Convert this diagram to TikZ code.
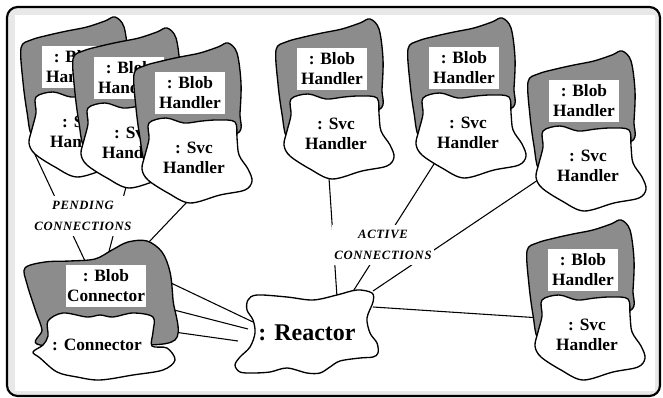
\documentclass[tikz,border=0pt]{standalone}
\usepackage{fontspec}
\setmainfont{Liberation Serif}
\newfontfamily\spacedfont[LetterSpace=5]{Liberation Serif}
\usetikzlibrary{positioning}

\pgfdeclarelayer{back}
\pgfdeclarelayer{wires}
\pgfsetlayers{back,wires,main}

% handler: shaded Blob part with the Svc part in front of it
\newcommand{\blobhandler}[3]{%
  \begin{scope}[shift={(#2,#3)}]
    \filldraw[shaded blob] plot[smooth cycle, tension=0.55] coordinates {
      (-56,-19) (-46,-27) (-28,-32) (-10,-36) (10,-40) (28,-46) (38,-50)
      (47,-40) (51,-10) (50,20) (48,40) (10,46) (-30,64) (-45,68)
      (-50,45) (-54,15)};
    \filldraw[plain blob] plot[smooth cycle, tension=0.55] coordinates {
      (-41,30) (-24,25) (-6,30) (12,28) (28,27) (45,29) (47,45) (49,62)
      (58,76) (62,88) (55,97) (30,102) (0,110) (-22,100) (-42,87)
      (-48,76) (-45,62) (-41,46)};
    \node[namebox] (#1-blob) at (0,0) {: Blob\\Handler};
    \node[svclabel] (#1-svc) at (4,65) {: Svc\\Handler};
    \coordinate (#1-w) at (-46,79);
    \coordinate (#1-sw) at (-30,96);
    \coordinate (#1-s) at (-3,109);
    \coordinate (#1-nw) at (-42,48);
  \end{scope}}

\begin{document}
\begin{tikzpicture}[
    x=0.75pt, y=-0.75pt,
    shaded blob/.style={draw=black, line width=1pt, fill=black!45},
    plain blob/.style={draw=black, line width=1pt, fill=white},
    namebox/.style={
        fill=white,
        inner sep=1pt,
        minimum width=52pt,
        minimum height=31pt,
        align=center,
        font=\bfseries\fontsize{13}{15}\selectfont
    },
    svclabel/.style={inner sep=0pt, align=center, font=\bfseries\fontsize{13}{15}\selectfont},
    wire/.style={draw, line width=0.8pt},
    tag/.style={
        fill=white,
        inner xsep=2pt,
        inner ysep=4pt,
        align=center,
        font=\spacedfont\bfseries\itshape\fontsize{9.5}{16}\selectfont
    }
]
    \useasboundingbox (0,0) rectangle (663,398);

    % --- FRAME ---
    \begin{pgfonlayer}{back}
        \draw[line width=1.6pt, fill=black!9, rounded corners=8pt] (7,7) rectangle (660,396);
        \fill[white] (15,15) rectangle (655,391);
    \end{pgfonlayer}

    % --- PENDING HANDLERS ---
    \blobhandler{pendA}{77}{67}
    \blobhandler{pendB}{129}{78}
    \blobhandler{pendC}{190}{93}

    % --- ACTIVE HANDLERS ---
    \blobhandler{actA}{332}{69}
    \blobhandler{actB}{464}{68}
    \blobhandler{actC}{584}{101}
    \blobhandler{actD}{583}{270}

    % --- CONNECTOR ---
    \filldraw[shaded blob] plot[smooth cycle, tension=0.55] coordinates {
      (25,268) (45,262) (70,261) (95,259) (112,250) (128,242) (147,241)
      (162,252) (170,272) (173,300) (175,340) (120,345) (40,345) (42,330)
      (36,312) (27,284)};
    \filldraw[plain blob] plot[smooth cycle, tension=0.55] coordinates {
      (48,321) (63,313) (87,317) (100,315) (113,317) (133,313) (153,317)
      (153,332) (152,346) (167,348) (175,360) (163,370) (133,375) (100,380)
      (77,377) (57,372) (40,358) (33,352) (43,345) (48,336)};
    \node[namebox] (conn-blob) at (106,286) {: Blob\\Connector};
    \node[svclabel] (conn-main) at (97,345) {: Connector};
    \coordinate (conn-n1) at (85,261);
    \coordinate (conn-n2) at (107,259);
    \coordinate (conn-ne) at (148,243);
    \coordinate (conn-e1) at (171,283);
    \coordinate (conn-e2) at (174,310);
    \coordinate (conn-e3) at (174,332);

    % --- REACTOR ---
    \filldraw[plain blob] plot[smooth cycle, tension=0.55] coordinates {
      (248,300) (257,295) (287,297) (313,300) (337,295) (357,290) (372,293)
      (373,302) (367,318) (370,333) (377,343) (378,353) (373,357) (360,358)
      (340,361) (330,367) (320,373) (307,373) (287,368) (270,372) (253,373)
      (240,372) (235,365) (240,357) (250,347) (255,333) (253,320) (247,310)};
    \node[font=\bfseries\fontsize{18}{20}\selectfont, inner sep=0pt] (reactor) at (307,333) {: Reactor};
    \coordinate (r-w1) at (253,322);
    \coordinate (r-w2) at (248,329);
    \coordinate (r-w3) at (238,341);
    \coordinate (r-n1) at (337,297);
    \coordinate (r-n2) at (352,293);
    \coordinate (r-n3) at (373,291);
    \coordinate (r-e) at (373,307);

    % --- LABELS ---
    \node[tag] (pending) at (83,216) {PENDING\\CONNECTIONS};
    \node[tag] (active) at (383,245) {ACTIVE\\CONNECTIONS};

    % --- LINKS ---
    \begin{pgfonlayer}{wires}
        \path[wire] (pendA-w) -- (conn-n1);
        \path[wire] (pendB-s) -- (conn-n2);
        \path[wire] (pendC-s) -- (conn-ne);
        \path[wire] (conn-e1) -- (r-w1);
        \path[wire] (conn-e2) -- (r-w2);
        \path[wire] (conn-e3) -- (r-w3);
        \path[wire] (actA-s) -- (r-n1);
        \path[wire] (actB-sw) -- (r-n2);
        \path[wire] (actC-w) -- (r-n3);
        \path[wire] (r-e) -- (actD-nw);
    \end{pgfonlayer}
\end{tikzpicture}
\end{document}
